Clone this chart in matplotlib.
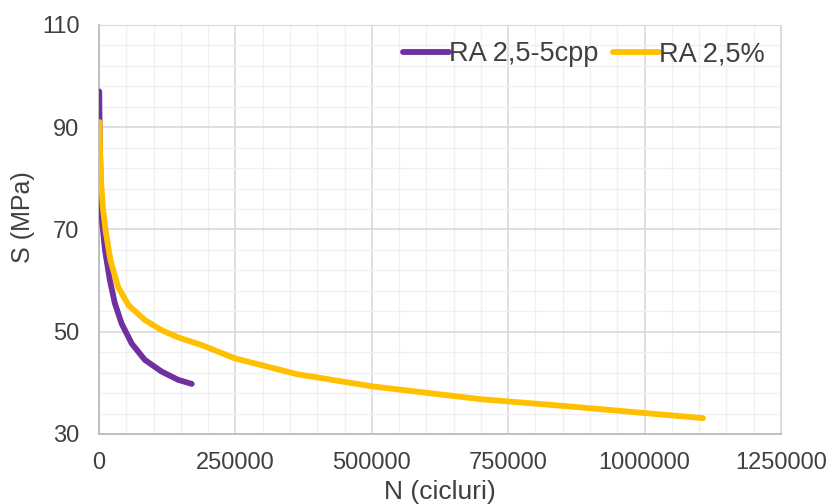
import matplotlib
matplotlib.use("Agg")
import matplotlib.pyplot as plt
from matplotlib.ticker import MultipleLocator, FuncFormatter

plt.rcParams['font.family'] = ['Liberation Sans', 'DejaVu Sans']

# points
n_cpp = [500, 1000, 2500, 5000, 11000, 20000, 29000, 41500, 60000, 84000,
         115000, 145000, 170000]
s_cpp = [97.0, 91.5, 82.0, 72.5, 66.0, 60.1, 55.6, 51.6, 47.7, 44.5,
         42.2, 40.6, 39.8]

n_pct = [1000, 2000, 3700, 7000, 12000, 21000, 35000, 54000, 84000, 115000,
         145000, 188000, 249000, 363000, 502000, 700000, 850000, 1000000, 1107000]
s_pct = [91.0, 85.0, 79.7, 74.5, 69.9, 64.0, 58.8, 55.2, 52.3, 50.3,
         48.9, 47.4, 44.8, 41.7, 39.3, 36.8, 35.5, 34.1, 33.1]

y_ticks = [30, 50, 70, 90, 110]

fig = plt.figure(figsize=(8.33, 5.04), dpi=100)
ax = fig.add_axes([0.1188, 0.1389, 0.8188, 0.8115])

ax.plot(n_cpp, s_cpp, color='#7030A0', lw=4.2, solid_capstyle='round',
        solid_joinstyle='round', label='RA 2,5-5cpp', zorder=3)
ax.plot(n_pct, s_pct, color='#FFC000', lw=4.2, solid_capstyle='round',
        solid_joinstyle='round', label='RA 2,5%', zorder=4)

ax.set_xlim(0, 1250000)
ax.set_ylim(30, 110)
ax.xaxis.set_major_locator(MultipleLocator(250000))
ax.xaxis.set_minor_locator(MultipleLocator(50000))
ax.set_yticks(y_ticks)
ax.set_yticks([v for v in range(30, 111, 4) if v not in y_ticks], minor=True)
ax.xaxis.set_major_formatter(FuncFormatter(lambda v, p: '%d' % v))

ax.grid(which='major', color='#d9d9d9', lw=1.2)
ax.grid(which='minor', color='#f0f0f0', lw=1.0)
ax.set_axisbelow(True)
ax.tick_params(which='both', length=0, labelsize=17, colors='#404040')
ax.tick_params(axis='y', pad=14)
ax.tick_params(axis='x', pad=13)
for side in ['top', 'right']:
    ax.spines[side].set_color('#d9d9d9')
for side in ['left', 'bottom']:
    ax.spines[side].set_color('#bfbfbf')
    ax.spines[side].set_linewidth(1.4)

ax.set_xlabel('N (cicluri)', fontsize=19, color='#404040', labelpad=4)
ax.set_ylabel('S (MPa)', fontsize=18, color='#404040')
ax.yaxis.set_label_coords(-0.094, 0.53)

ax.legend(loc='upper right', ncol=2, frameon=False, fontsize=19.5, handlelength=1.7,
          handletextpad=0.0, columnspacing=0.55, borderaxespad=0.2,
          labelcolor='#404040')

fig.savefig('out.png', dpi=100)
